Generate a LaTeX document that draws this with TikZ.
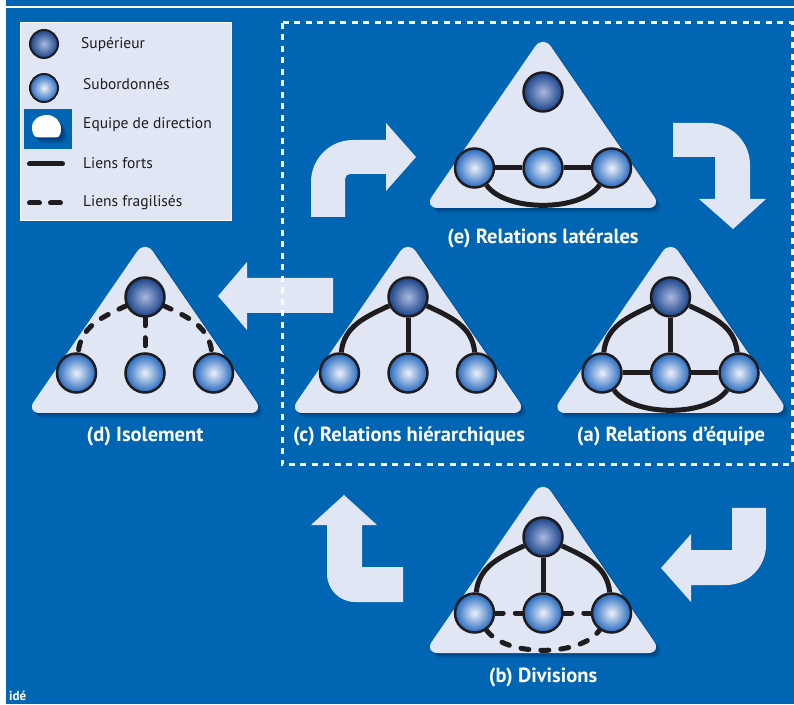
\documentclass[tikz,border=0pt]{standalone}
\usepackage{fontspec}
\setmainfont{PT Sans}
\usetikzlibrary{positioning}

\definecolor{fondbleu}{RGB}{0,101,178}
\definecolor{pale}{RGB}{224,230,243}
\definecolor{ombre}{RGB}{0,45,100}
\definecolor{supext}{RGB}{24,66,135}
\definecolor{supint}{RGB}{170,184,224}
\definecolor{subext}{RGB}{36,104,190}
\definecolor{subint}{RGB}{236,240,250}
\definecolor{encre}{RGB}{30,28,30}

\tikzset{
  sup/.style={circle, draw=encre, line width=2.5pt, minimum size=39pt, inner sep=0pt,
    inner color=supint, outer color=supext},
  sub/.style={circle, draw=encre, line width=2.5pt, minimum size=39pt, inner sep=0pt,
    inner color=subint, outer color=subext},
  fort/.style={draw=encre, line width=5pt},
  fragile/.style={draw=encre, line width=5pt, line cap=round, dash pattern=on 8pt off 12pt},
  fleche/.style={fill=pale},
  titre/.style={text=white, inner sep=0pt, font=\fontsize{20.5}{24}\selectfont\bfseries},
  legende/.style={text=encre, inner sep=0pt, anchor=west, font=\fontsize{15.5}{18}\selectfont},
}

% rounded triangle with its shadow, in local coordinates
\newcommand{\fondtri}{%
  \foreach \s in {1,...,5}{
    \fill[ombre, opacity=0.13, rounded corners=14pt, shift={(\s*0.9,-\s)}]
      (0,173) -- (119,0) -- (-119,0) -- cycle;}
  \fill[pale, rounded corners=14pt] (0,173) -- (119,0) -- (-119,0) -- cycle;}

\begin{document}
\begin{tikzpicture}[x=1pt, y=1pt]

    \useasboundingbox (0,0) rectangle (794,704);

    % --- background ---
    \fill[white] (0,0) rectangle (794,704);
    \fill[fondbleu] (6,0) rectangle (794,704);
    \draw[white, line width=1.5pt] (6,697) -- (794,697);

    % ==========================================
    % --- Legend ---
    % ==========================================
    \filldraw[fill=pale, draw=white, line width=1pt] (20,681) rectangle (231,483);

    \node[sup, minimum size=28pt, line width=2pt] (lsup) at (44,660) {};
    \node[legende] (tsup) at (81,660) {Supérieur};

    \node[sub, minimum size=28pt, line width=2pt] (lsub) at (44,616) {};
    \node[legende] (tsub) at (83,620) {Subordonnés};

    \node[fill=fondbleu, minimum width=48pt, minimum height=40pt, inner sep=0pt] (ldir) at (48,575) {};
    \foreach \s in {1,...,6}{
      \fill[ombre, opacity=0.16, shift={(\s*0.9,-\s)}] (38,566.5) -- (56,566.5) to[out=0,in=-90] (61,575)
        to[out=90,in=0] (47,589) to[out=180,in=90] (32,577) to[out=-90,in=180] (38,566.5) -- cycle;}
    \fill[white] (38,566.5) -- (56,566.5) to[out=0,in=-90] (61,575)
      to[out=90,in=0] (47,589) to[out=180,in=90] (32,577) to[out=-90,in=180] (38,566.5) -- cycle;
    \node[legende] (tdir) at (83,579) {Equipe de direction};

    \draw[fort, line cap=round] (29.5,540) -- (62.5,540);
    \node[legende] (tfort) at (83,541) {Liens forts};

    \draw[fort, line cap=round, dash pattern=on 10pt off 11pt] (29.5,501) -- (60.5,501);
    \node[legende] (tfrag) at (83,501) {Liens fragilisés};

    % ==========================================
    % --- Arrows ---
    % ==========================================
    % (c) to (e)
    \fill[fleche] (311,487) -- (311,522) arc[start angle=180, end angle=90, radius=42]
      -- (386,564) -- (386,581) -- (416,547) -- (386,513) -- (386,530) -- (350,530)
      arc[start angle=90, end angle=180, radius=5] -- (345,487) -- cycle;
    % (e) to (a)
    \fill[fleche] (673,581) -- (708,581) arc[start angle=90, end angle=0, radius=42]
      -- (750,505) -- (766,505) -- (733,475) -- (699,505) -- (715,505) -- (715,547) -- (673,547) -- cycle;
    % (c) to (d)
    \fill[fleche] (333,426) -- (247,426) -- (247,442) -- (218,408) -- (247,374) -- (247,391) -- (333,391) -- cycle;
    % (a) to (b)
    \fill[fleche] (732,196) -- (766,196) -- (766,159) arc[start angle=0, end angle=-90, radius=40]
      -- (691,119) -- (691,102) -- (661,136) -- (691,170) -- (691,154) -- (732,154) -- cycle;
    % (b) to (c)
    \fill[fleche] (403,137) -- (403,102) -- (355,102) arc[start angle=-90, end angle=-180, radius=28]
      -- (327,179) -- (311,179) -- (344,209) -- (377,179) -- (362,179) -- (362,137) -- cycle;

    % ==========================================
    % --- (e) Relations laterales ---
    % ==========================================
    \begin{scope}[shift={(543,496)}]
        \fondtri
        \node[sup] (e0) at (0,116) {};
        \node[sub] (e1) at (-68.5,40) {};
        \node[sub] (e2) at (0,40) {};
        \node[sub] (e3) at (68.5,40) {};
        \draw[fort] (e1) -- (e2) (e2) -- (e3);
        \draw[fort] (e1) to[out=-55, in=-125, looseness=0.75] (e3);
    \end{scope}
    \node[titre] (te) at (543,466) {(e) Relations latérales};

    % ==========================================
    % --- (d) Isolement ---
    % ==========================================
    \begin{scope}[shift={(145,291)}]
        \fondtri
        \node[sup] (d0) at (0,116) {};
        \node[sub] (d1) at (-68.5,40) {};
        \node[sub] (d2) at (0,40) {};
        \node[sub] (d3) at (68.5,40) {};
        \draw[fragile] (d0) to[out=205, in=85] (d1);
        \draw[fragile] (d0) -- (d2);
        \draw[fragile] (d0) to[out=-25, in=95] (d3);
    \end{scope}
    \node[titre] (td) at (145,268) {(d) Isolement};

    % ==========================================
    % --- (c) Relations hierarchiques ---
    % ==========================================
    \begin{scope}[shift={(408,291)}]
        \fondtri
        \node[sup] (c0) at (0,116) {};
        \node[sub] (c1) at (-68.5,40) {};
        \node[sub] (c2) at (0,40) {};
        \node[sub] (c3) at (68.5,40) {};
        \draw[fort] (c0) to[out=205, in=85] (c1);
        \draw[fort] (c0) -- (c2);
        \draw[fort] (c0) to[out=-25, in=95] (c3);
    \end{scope}
    \node[titre] (tc) at (409,268) {(c) Relations hiérarchiques};

    % ==========================================
    % --- (a) Relations d'equipe ---
    % ==========================================
    \begin{scope}[shift={(670.5,291)}]
        \fondtri
        \node[sup] (a0) at (0,116) {};
        \node[sub] (a1) at (-68.5,40) {};
        \node[sub] (a2) at (0,40) {};
        \node[sub] (a3) at (68.5,40) {};
        \draw[fort] (a0) to[out=205, in=85] (a1);
        \draw[fort] (a0) -- (a2);
        \draw[fort] (a0) to[out=-25, in=95] (a3);
        \draw[fort] (a1) -- (a2) (a2) -- (a3);
        \draw[fort] (a1) to[out=-55, in=-125, looseness=0.75] (a3);
    \end{scope}
    \node[titre] (ta) at (671,268) {(a) Relations d’équipe};

    % ==========================================
    % --- (b) Divisions ---
    % ==========================================
    \begin{scope}[shift={(543,51)}]
        \fondtri
        \node[sup] (b0) at (0,116) {};
        \node[sub] (b1) at (-68.5,40) {};
        \node[sub] (b2) at (0,40) {};
        \node[sub] (b3) at (68.5,40) {};
        \draw[fort] (b0) to[out=205, in=85] (b1);
        \draw[fort] (b0) -- (b2);
        \draw[fort] (b0) to[out=-25, in=95] (b3);
        \draw[fragile] (b1) -- (b2) (b2) -- (b3);
        \draw[fragile] (b1) to[out=-55, in=-125, looseness=0.75] (b3);
    \end{scope}
    \node[titre] (tb) at (543,27) {(b) Divisions};

    % --- dashed frame ---
    \draw[white, line width=3pt, dash pattern=on 6pt off 5.5pt] (282,681) rectangle (792,239);

    % --- footer ---
    \node[anchor=base west, inner sep=0pt, text=white, font=\fontsize{13}{13}\selectfont\bfseries]
      (pied) at (9,4) {idé};

\end{tikzpicture}
\end{document}
